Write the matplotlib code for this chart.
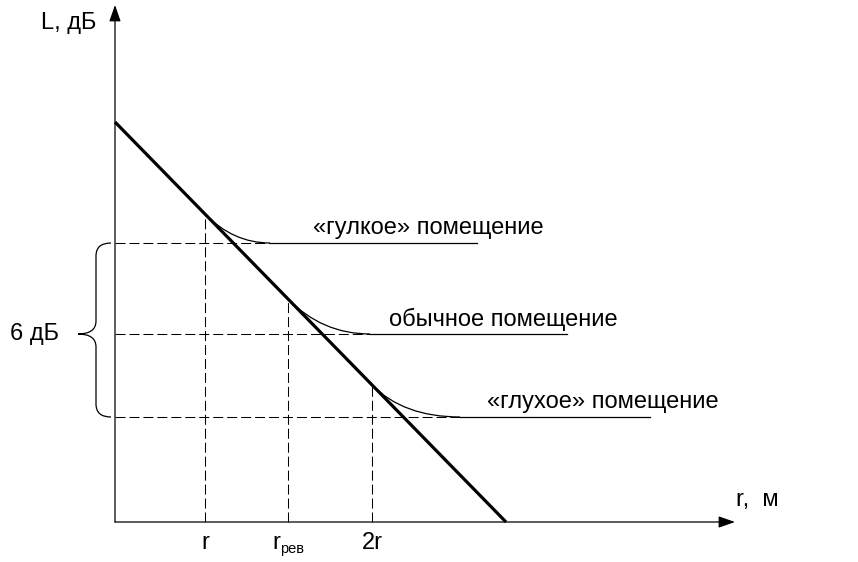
import matplotlib
matplotlib.use("Agg")
import matplotlib.pyplot as plt
from matplotlib.path import Path
from matplotlib.patches import PathPatch

plt.rcParams['font.family'] = ['Liberation Sans', 'DejaVu Sans']

# ---- schematic data (arbitrary units) ----
L_start = 40.0          # level of direct-sound line at r = 0
L_slope = -1.023        # slope of direct-sound line
r_line_end = 39.1       # where the direct line reaches the r axis
r_ticks = [9.0, 17.3, 25.7]                 # r, r_рев, 2r
tick_labels = ['r', 'r', '2r']
tick_subs = ['', 'рев', '']
plateau_levels = [27.9, 18.8, 10.5]         # reverberant levels
curve_end_r = [15.5, 25.5, 34.5]            # where curve meets the plateau
plateau_end_r = [36.2, 45.2, 53.5]          # end of plateau line
room_labels = ['«гулкое» помещение', 'обычное помещение', '«глухое» помещение']
label_start_r = [19.8, 27.4, 37.2]
brace_label = '6 дБ'
y_label = 'L, дБ'
x_label = 'r,  м'
x_axis_end = 62.0
y_axis_end = 51.7

FS = 17

fig = plt.figure(figsize=(8.58, 5.62), dpi=100)
ax = fig.add_axes([0, 0, 1, 1])
ax.set_xlim(-11.5, 74.3)
ax.set_ylim(-4.0, 52.2)
ax.axis('off')

def L_direct(r):
    return L_start + L_slope * r

# axes with arrows
arrow_kw = dict(arrowstyle='-|>,head_length=1.0,head_width=0.35', lw=0.9,
                color='black', shrinkA=0, shrinkB=0)
ax.annotate('', xy=(0, y_axis_end), xytext=(0, 0), arrowprops=arrow_kw)
ax.annotate('', xy=(x_axis_end, 0), xytext=(0, 0), arrowprops=arrow_kw)

# direct sound line
ax.plot([0, r_line_end], [L_direct(0), L_direct(r_line_end)], color='black', lw=2.3,
        solid_capstyle='butt')

dash = (0, (9.6, 3.8))
for rt, lev, ce, pe in zip(r_ticks, plateau_levels, curve_end_r, plateau_end_r):
    Lt = L_direct(rt)
    r_cross = (lev - L_start) / L_slope
    # vertical dashed
    ax.plot([rt, rt], [0, Lt], color='black', lw=0.75, ls=dash)
    # horizontal dashed
    ax.plot([0, ce], [lev, lev], color='black', lw=0.75, ls=dash)
    # curve (tangent to line and plateau)
    verts = [(rt, Lt), (r_cross, lev), (ce, lev)]
    codes = [Path.MOVETO, Path.CURVE3, Path.CURVE3]
    ax.add_patch(PathPatch(Path(verts, codes), fc='none', ec='black', lw=0.9))
    # plateau
    ax.plot([ce, pe], [lev, lev], color='black', lw=0.9)

for txt, x0, lev in zip(room_labels, label_start_r, plateau_levels):
    ax.text(x0, lev + 1.5, txt, fontsize=FS, ha='left', va='center')

# tick labels
for rt, lab, sub in zip(r_ticks, tick_labels, tick_subs):
    if sub:
        ax.text(rt - 1.6, -2.1, lab, fontsize=FS, ha='left', va='center')
        ax.text(rt - 0.75, -2.75, sub, fontsize=10.5, ha='left', va='center')
    else:
        ax.text(rt, -2.1, lab, fontsize=FS, ha='center', va='center')

# brace
top, mid, bot = plateau_levels
x_end, x_sp, x_tip = -0.4, -1.9, -3.7
d = 1.3
verts = [(x_end, top), (x_sp, top), (x_sp, top - d),
         (x_sp, mid + d),
         (x_sp, mid), (x_tip, mid),
         (x_sp, mid), (x_sp, mid - d),
         (x_sp, bot + d),
         (x_sp, bot), (x_end, bot)]
codes = [Path.MOVETO, Path.CURVE3, Path.CURVE3,
         Path.LINETO,
         Path.CURVE3, Path.CURVE3,
         Path.CURVE3, Path.CURVE3,
         Path.LINETO,
         Path.CURVE3, Path.CURVE3]
ax.add_patch(PathPatch(Path(verts, codes), fc='none', ec='black', lw=0.9))
ax.text(-10.5, mid, brace_label, fontsize=FS, ha='left', va='center')

ax.text(-4.6, 49.9, y_label, fontsize=FS, ha='center', va='center')
ax.text(64.2, 2.2, x_label, fontsize=FS, ha='center', va='center')

fig.savefig('out.png', dpi=100)
